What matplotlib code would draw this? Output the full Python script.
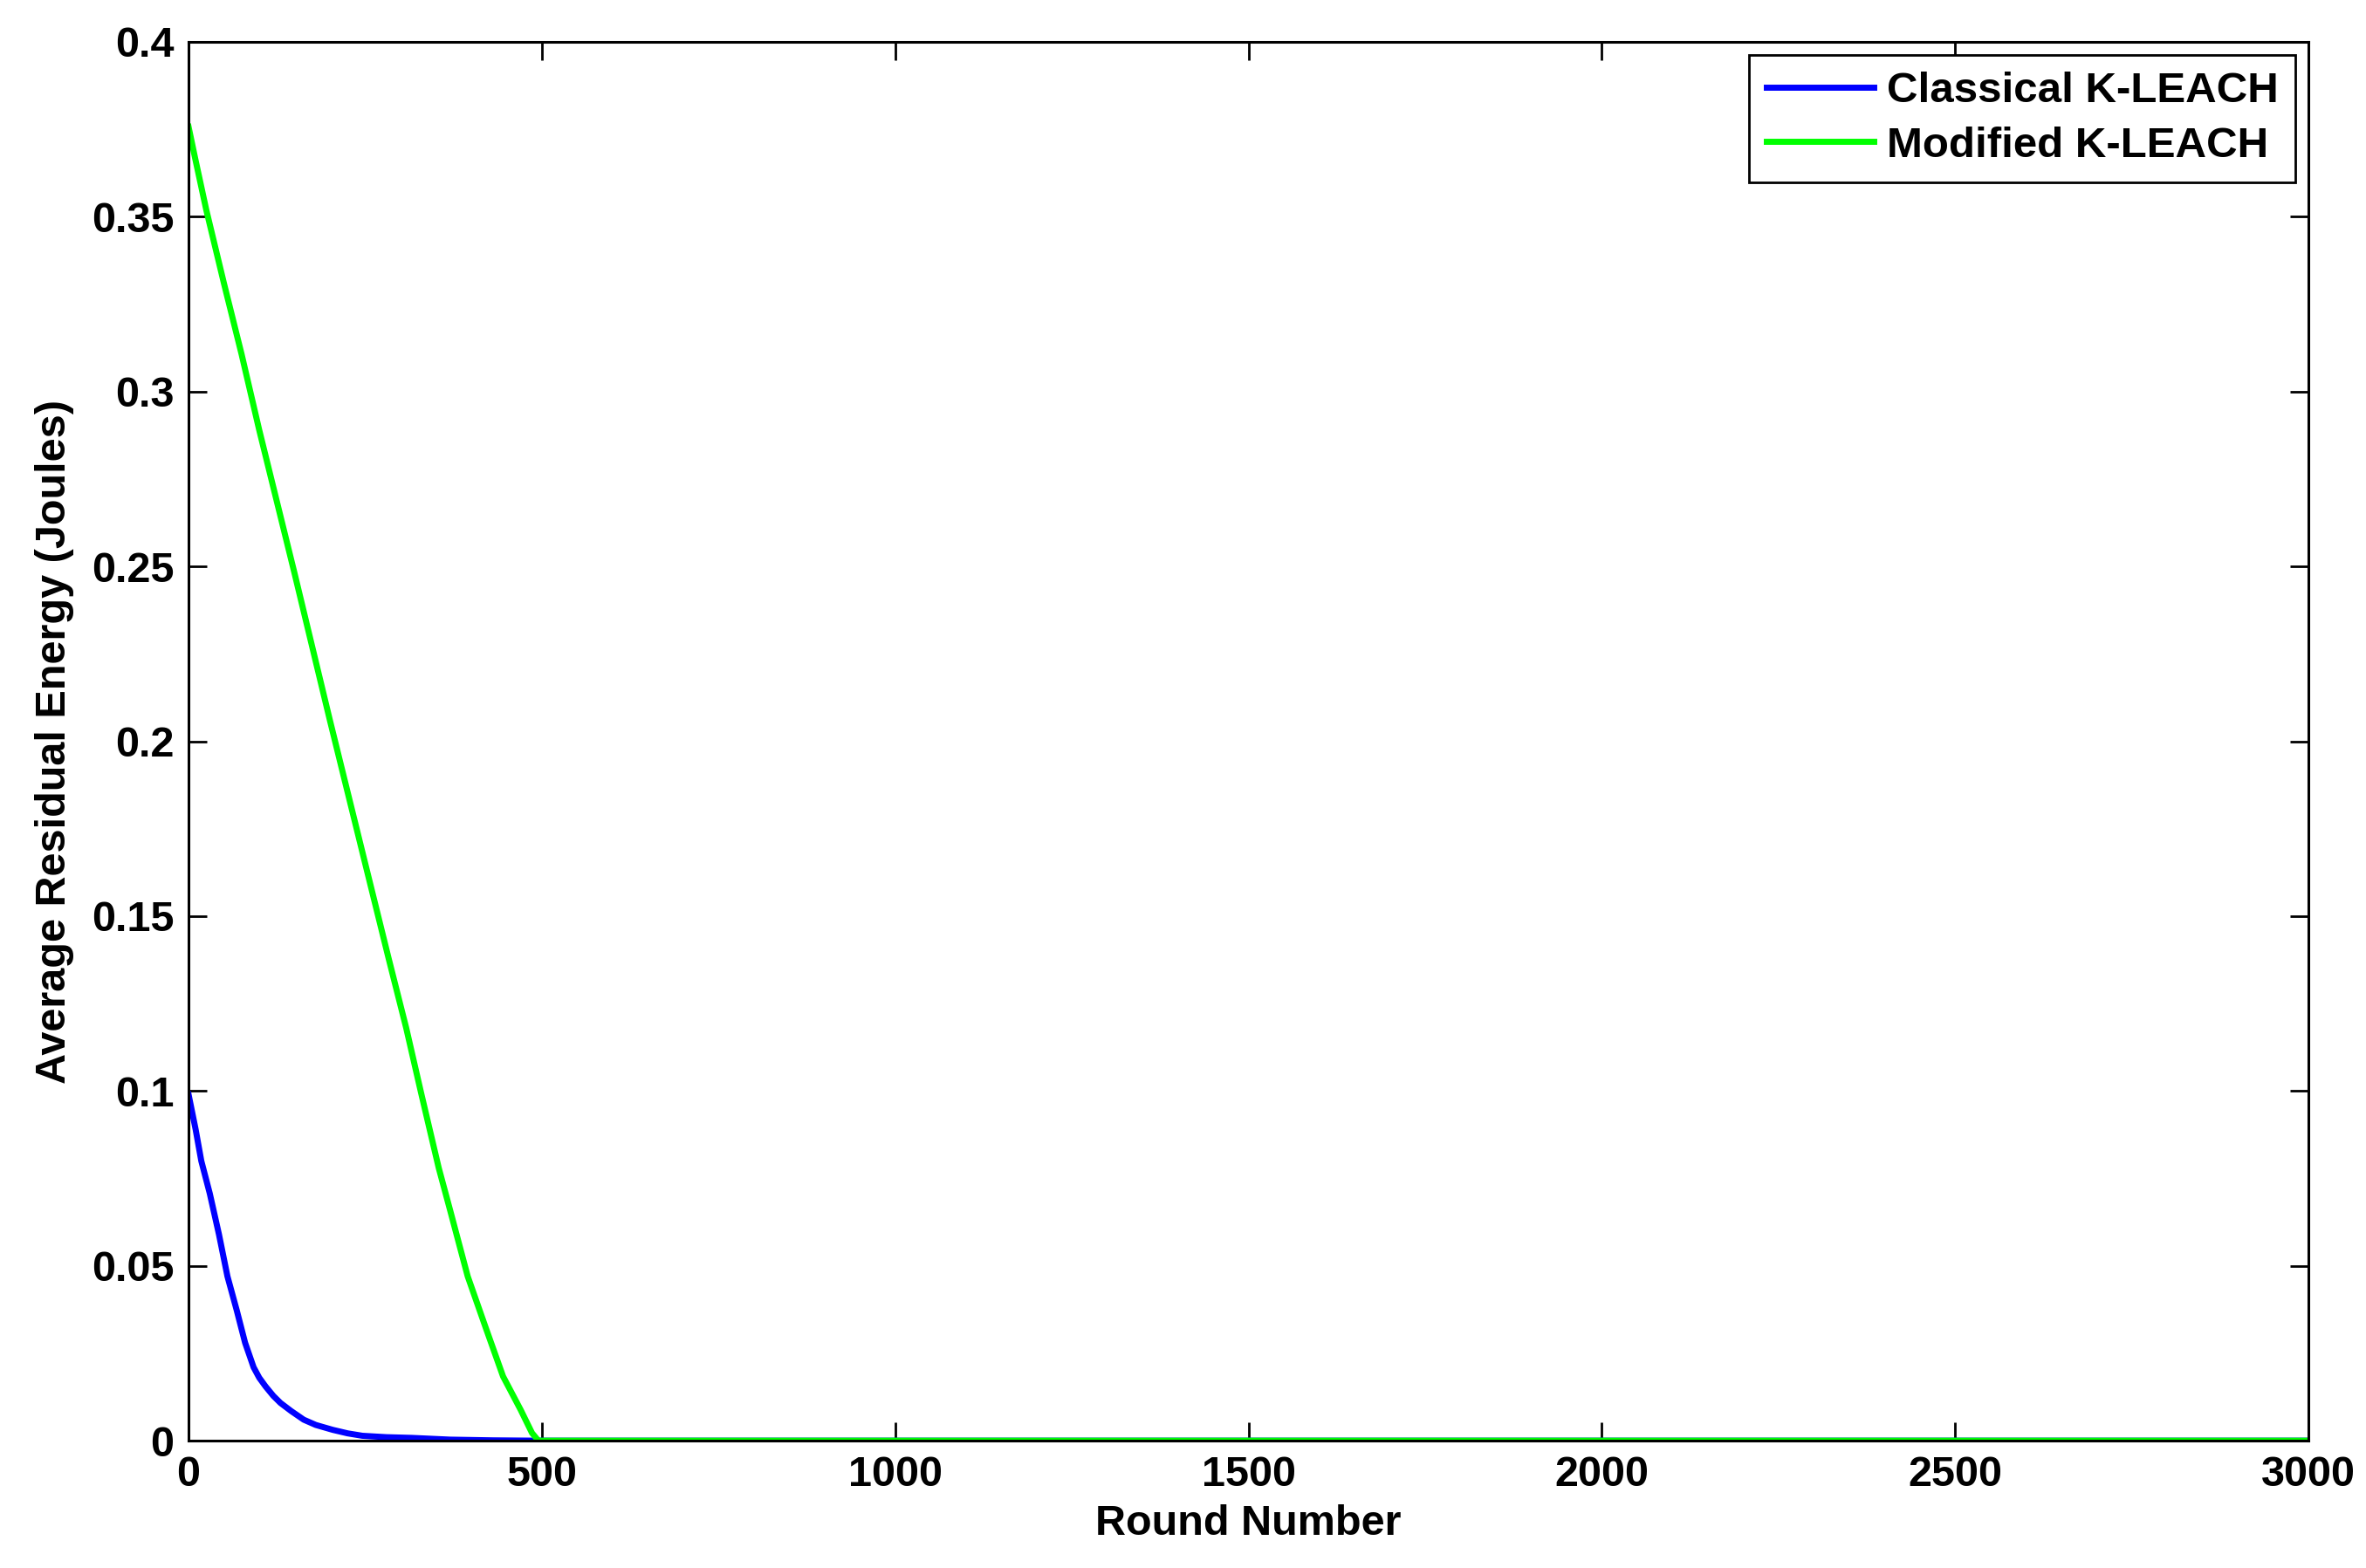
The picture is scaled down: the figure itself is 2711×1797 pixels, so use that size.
import matplotlib
matplotlib.use('Agg')
import matplotlib.pyplot as plt

# Classical K-LEACH (blue)
classical_rounds = [0, 10, 18, 30, 43, 55, 68, 80, 92, 100, 109, 120, 130, 145, 163, 180, 204,
                    225, 246, 280, 316, 370, 430, 495, 3000]
classical_energy = [0.099, 0.089, 0.080, 0.0707, 0.059, 0.047, 0.0374, 0.028, 0.021, 0.018,
                    0.0155, 0.0128, 0.0108, 0.0085, 0.006, 0.0045, 0.0031, 0.0021, 0.0014,
                    0.0010, 0.0008, 0.0003, 0.0001, 0.0, 0.0]

# Modified K-LEACH (green)
modified_rounds = [0, 9, 25, 50, 75, 100, 150, 200, 250, 283, 308, 329, 354, 370, 395, 420, 445,
                   470, 486, 495, 3000]
modified_energy = [0.3757, 0.367, 0.352, 0.331, 0.3107, 0.289, 0.248, 0.206, 0.165, 0.138, 0.118,
                   0.0995, 0.078, 0.066, 0.047, 0.0326, 0.0184, 0.0088, 0.0022, 0.0, 0.0]

x_ticks = [0, 500, 1000, 1500, 2000, 2500, 3000]
y_ticks = [0, 0.05, 0.1, 0.15, 0.2, 0.25, 0.3, 0.35, 0.4]
y_tick_labels = ['0', '0.05', '0.1', '0.15', '0.2', '0.25', '0.3', '0.35', '0.4']

plt.rcParams['font.family'] = ['Liberation Sans', 'DejaVu Sans']
plt.rcParams['font.weight'] = 'bold'

fig = plt.figure(figsize=(27.11, 17.97), dpi=100)
ax = fig.add_axes([0.0797, 0.0812, 0.8960, 0.8921])

ax.plot(classical_rounds, classical_energy, color='#0000ff', linewidth=5, label='Classical K-LEACH')
ax.plot(modified_rounds, modified_energy, color='#00ff00', linewidth=5, label='Modified K-LEACH')

ax.set_xlim(0, 3000)
ax.set_ylim(0, 0.4)
ax.set_xticks(x_ticks)
ax.set_yticks(y_ticks)
ax.set_yticklabels(y_tick_labels)
ax.tick_params(direction='in', length=15, width=2, top=True, right=True,
               labelsize=35, pad=12)
for lbl in ax.get_xticklabels() + ax.get_yticklabels():
    lbl.set_fontweight('bold')
for sp in ax.spines.values():
    sp.set_linewidth(2.2)

ax.set_xlabel('Round Number', fontsize=35, fontweight='bold', labelpad=8)
ax.set_ylabel('Average Residual Energy (Joules)', fontsize=35, fontweight='bold', labelpad=14)

leg = ax.legend(loc='upper right', fancybox=False, framealpha=1,
                edgecolor='black', handlelength=2.5, handletextpad=0.3,
                borderaxespad=0.3, labelspacing=0.35, borderpad=0.4,
                prop={'weight': 'bold', 'size': 35.5})
leg.get_frame().set_linewidth(2)

fig.savefig('out.png', dpi=100, facecolor='white')
